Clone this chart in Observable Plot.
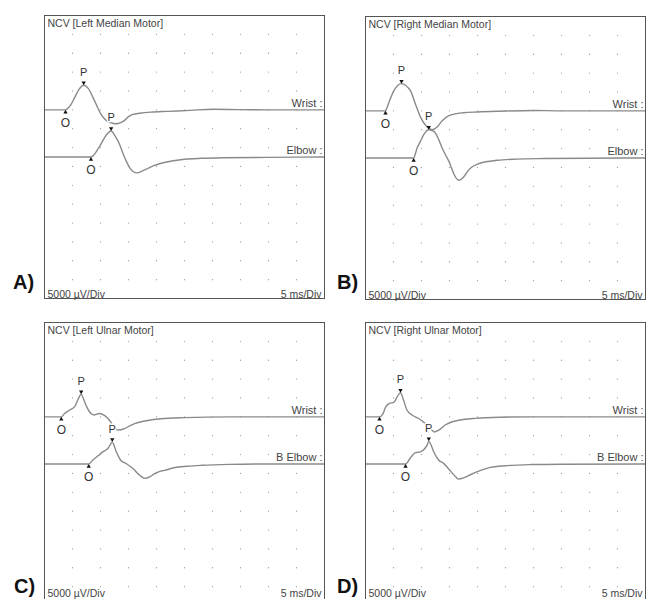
<!DOCTYPE html>
<html><head><meta charset="utf-8">
<script src="https://cdn.jsdelivr.net/npm/d3@7"></script>
<script src="https://cdn.jsdelivr.net/npm/@observablehq/plot@0.6"></script>
<style>
html,body{margin:0;padding:0;overflow:hidden;background:#fff;}
#root{position:relative;width:646px;height:599px;overflow:hidden;background:#fff;}
.panel{position:absolute;}
#letters{position:absolute;left:0;top:0;}
</style></head><body><div id="root"></div>
<script>
// ---- data (time in ms, amplitude in mV) ----
const gridT = [5, 10, 15, 20, 25, 30, 35, 40, 45];
const gridV = [20, 15, 10, 5, 0, -5, -10, -15, -20, -25, -30, -35, -40, -45];
const panelTitles = ["NCV [Left Median Motor]", "NCV [Right Median Motor]", "NCV [Left Ulnar Motor]", "NCV [Right Ulnar Motor]"];
const panelLetters = ["A)", "B)", "C)", "D)"];
const traceLabels = [["Wrist", "Elbow"], ["Wrist", "Elbow"], ["Wrist", "B Elbow"], ["Wrist", "B Elbow"]];
const sensitivityLabel = "5000 µV/Div";
const sweepLabel = "5 ms/Div";

const leftMedianWrist = [[0,0],[3.75,0],[4.3,0.6],[4.8,1.6],[5.4,3.3],[6.2,5.5],[7.0,6.5],[7.8,5.7],[8.9,2.5],[10.1,-1.2],[11.0,-2.8],[11.8,-3.4],[12.8,-3.7],[13.6,-3.4],[14.3,-2.8],[15.0,-1.8],[15.8,-1.2],[17,-0.9],[19,-0.6],[22,-0.4],[26,-0.15],[30,0.15],[35,0.05],[40,0],[50,0]];
const leftMedianElbow = [[0,0],[8.3,0],[8.9,0.7],[9.5,2.0],[10.1,3.5],[10.7,5.1],[11.3,6.3],[11.9,6.9],[12.6,5.6],[13.4,3.4],[14.0,1.0],[14.6,-1.1],[15.2,-2.8],[15.9,-3.9],[16.5,-4.2],[17.5,-3.7],[18.5,-3.0],[19.5,-2.3],[21,-1.6],[23,-1.0],[25,-0.6],[28,-0.35],[32,-0.2],[40,-0.1],[50,0]];
const rightMedianWrist = [[0,0],[3.57,0],[3.85,0.9],[4.2,2.3],[5.1,5.4],[5.8,6.8],[6.43,7.2],[7.2,6.7],[8.0,5.4],[8.9,1.9],[9.8,-1.6],[11.0,-4.3],[11.9,-5.0],[12.8,-4.3],[13.7,-2.6],[14.9,-1.3],[16,-0.8],[17.5,-0.5],[20,-0.3],[24,-0.1],[30,0.1],[35,0],[50,0]];
const rightMedianElbow = [[0,0],[8.6,0],[9.2,2.6],[9.8,4.4],[10.4,6.2],[11.3,7.5],[12.0,7.2],[12.5,6.6],[13.1,4.8],[13.7,2.6],[14.3,0.8],[14.9,-0.9],[15.4,-2.8],[15.8,-4.3],[16.7,-5.9],[17.5,-5.1],[18.2,-3.6],[19,-2.4],[20,-1.6],[21.5,-1.0],[23.5,-0.6],[27,-0.3],[32,-0.15],[40,-0.05],[50,0]];
const leftUlnarWrist = [[0,0],[3.0,0],[3.6,0.9],[4.5,1.8],[5.4,2.7],[5.95,4.5],[6.55,6.0],[7.0,4.6],[7.4,3.1],[8.3,0.9],[8.9,0.5],[9.8,0.9],[10.7,0.4],[11.6,-0.9],[12.3,-2.5],[13.1,-3.5],[14.3,-3.1],[15.2,-2.4],[16.1,-1.8],[17.9,-1.1],[20.8,-0.5],[25,-0.2],[33,0],[50,0]];
const leftUlnarElbow = [[0,0],[7.9,0],[8.6,1.0],[9.5,2.1],[10.4,3.2],[11.3,4.1],[11.7,5.0],[12.1,5.8],[12.5,4.6],[12.8,3.3],[13.3,1.8],[13.6,1.0],[14.6,0.1],[15.8,-1.2],[17.0,-3.0],[17.9,-3.8],[18.8,-3.4],[19.6,-2.6],[20.5,-2.0],[21.4,-1.7],[23.1,-1.0],[25.5,-0.6],[28,-0.35],[33,-0.1],[40,0],[50,0]];
const rightUlnarWrist = [[0,0],[2.5,0],[3.1,0.8],[3.6,2.6],[4.2,3.5],[5.1,3.9],[5.65,5.3],[6.25,6.4],[6.8,4.4],[7.4,1.8],[8.3,0.5],[9.5,-0.45],[10.7,-1.8],[11.6,-3.1],[12.3,-4.0],[13.0,-3.6],[14.3,-2.1],[15.5,-1.3],[16.7,-0.9],[19.6,-0.4],[24,-0.1],[30,0],[50,0]];
const rightUlnarElbow = [[0,0],[7.15,0],[8.0,1.6],[8.9,3.0],[9.8,3.2],[10.6,4.1],[11.0,5.0],[11.3,6.0],[11.8,4.7],[12.2,3.2],[13.1,1.0],[14.0,0.1],[14.9,-1.4],[16.1,-3.4],[16.6,-4.0],[17.5,-3.7],[18.5,-3.0],[20.2,-1.9],[22.3,-0.9],[25,-0.45],[29.5,-0.15],[35,-0.05],[50,0]];

// onset (O) latency and peak (P) latency / amplitude, [wrist, elbow]
const onsetT = [[3.75, 8.3], [3.57, 8.6], [3.0, 7.9], [2.5, 7.15]];
const peakT  = [[7.0, 11.9], [6.43, 11.3], [6.55, 12.1], [6.25, 11.3]];
const peakV  = [[6.5, 6.9], [7.2, 7.5], [6.0, 5.8], [6.4, 6.0]];

const traceData = [[leftMedianWrist, leftMedianElbow], [rightMedianWrist, rightMedianElbow], [leftUlnarWrist, leftUlnarElbow], [rightUlnarWrist, rightUlnarElbow]];

// ---- layout ----
const traceOffsets = [0, -12.5]; // baseline of each trace (mV on the display)
const panelPos = [[43, 14], [364, 15], [43, 321], [364, 321]];
const footerDy = [-1, -1, -9, -9];
const letterPos = [[13, 289], [337, 289], [14, 593], [337, 593]];

const root = document.getElementById("root");
const grid = gridT.flatMap(t => gridV.map(v => ({t, v})));
const font = "'Liberation Sans', Arial, sans-serif";

function panel(i) {
  const series = traceData[i].flatMap((tr, k) => tr.map(([t, v]) => ({k, t, y: v + traceOffsets[k]})));
  const labels = traceLabels[i].map((name, k) => ({name: name + " :", y: traceOffsets[k]}));
  const onsets = onsetT[i].map((t, k) => ({t, y: traceOffsets[k]}));
  const peaks = peakT[i].map((t, k) => ({t, y: peakV[i][k] + traceOffsets[k]}));
  return Plot.plot({
    width: 282, height: 285,
    marginLeft: 1, marginRight: 1, marginTop: 1, marginBottom: 1,
    x: {domain: [0, 50], axis: null},
    y: {domain: [-50, 25], axis: null},
    style: {fontFamily: font, fontSize: "10.5px", background: "transparent", overflow: "visible"},
    marks: [
      Plot.dot(grid, {x: "t", y: "v", r: 0.65, fill: "#a0a0a0", stroke: null}),
      Plot.line(series, {x: "t", y: "y", z: "k", stroke: "#8a8a8a", strokeWidth: 1.4, curve: "monotone-x"}),
      Plot.frame({stroke: "#555", strokeWidth: 1}),
      Plot.text(labels, {y: "y", text: "name", frameAnchor: "right", textAnchor: "end", lineAnchor: "bottom", dx: -2, dy: -3, fill: "#444", fontSize: 11}),
      Plot.text([panelTitles[i]], {text: d => d, frameAnchor: "top-left", textAnchor: "start", lineAnchor: "top", dx: 3, dy: 4, fill: "#444"}),
      Plot.text([sensitivityLabel], {text: d => d, frameAnchor: "bottom-left", textAnchor: "start", lineAnchor: "bottom", dx: 3, dy: footerDy[i], fill: "#444"}),
      Plot.text([sweepLabel], {text: d => d, frameAnchor: "bottom-right", textAnchor: "end", lineAnchor: "bottom", dx: -3, dy: footerDy[i], fill: "#444"}),
      Plot.dot(peaks, {x: "t", y: "y", symbol: "triangle", rotate: 180, r: 1.6, fill: "#111", stroke: null, dy: -2.5}),
      Plot.dot(onsets, {x: "t", y: "y", symbol: "triangle", r: 1.6, fill: "#111", stroke: null, dy: 2.5}),
      Plot.text(peaks, {x: "t", y: "y", text: () => "P", lineAnchor: "middle", dy: -13, fill: "#333", fontSize: 11, stroke: "white", strokeWidth: 3}),
      Plot.text(onsets, {x: "t", y: "y", text: () => "O", lineAnchor: "middle", dy: 13.5, fill: "#333", fontSize: 12, stroke: "white", strokeWidth: 3})
    ]
  });
}

panelPos.forEach(([l, t], i) => {
  const div = document.createElement("div");
  div.className = "panel";
  div.style.left = l + "px";
  div.style.top = t + "px";
  div.appendChild(panel(i));
  root.appendChild(div);
});

const svg = d3.select(root).append("svg").attr("id", "letters").attr("width", 646).attr("height", 599);
svg.selectAll("text").data(panelLetters).join("text")
  .attr("x", (d, i) => letterPos[i][0])
  .attr("y", (d, i) => letterPos[i][1])
  .attr("font-family", font).attr("font-weight", "bold").attr("font-size", 20).attr("fill", "#111")
  .text(d => d);
</script></body></html>
